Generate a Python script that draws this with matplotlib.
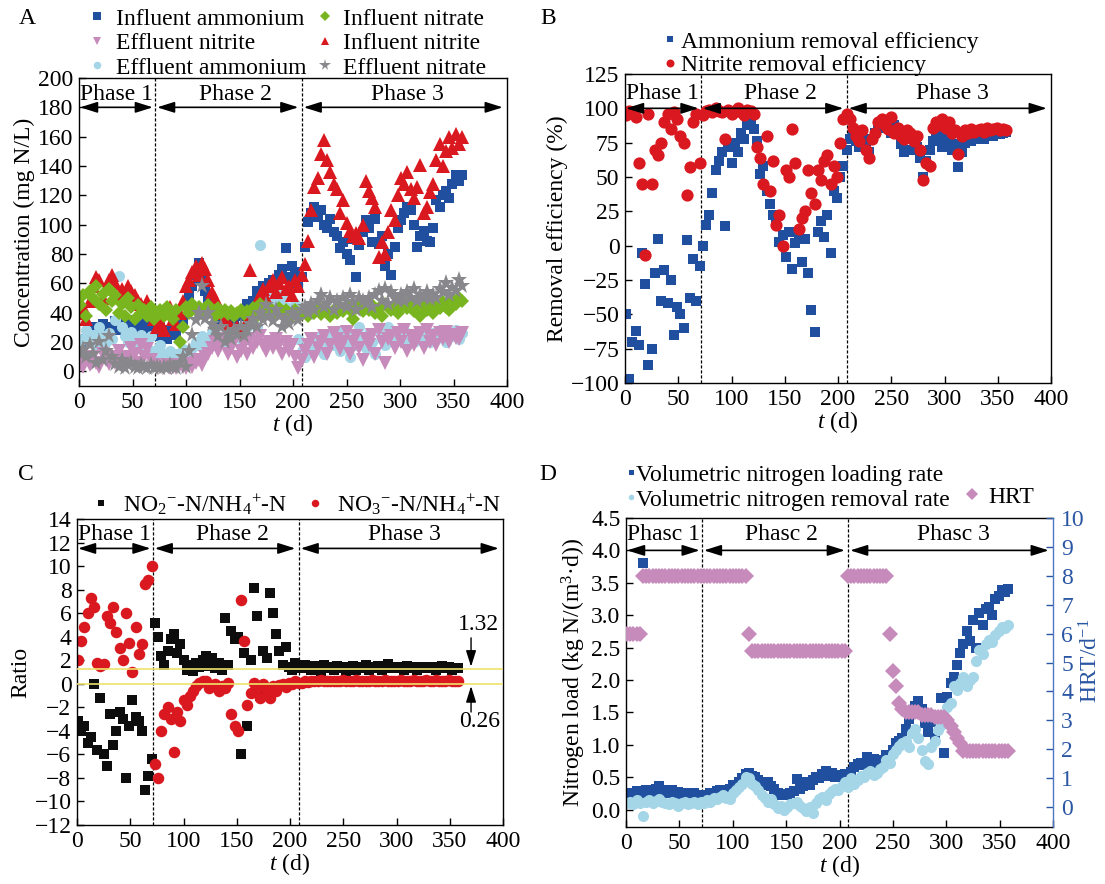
import matplotlib
matplotlib.use('Agg')
import matplotlib.pyplot as plt

plt.rcParams['font.family'] = ['Liberation Serif', 'DejaVu Serif']
plt.rcParams['mathtext.fontset'] = 'custom'
plt.rcParams['mathtext.rm'] = 'Liberation Serif'
plt.rcParams['mathtext.it'] = 'Liberation Serif:italic'
plt.rcParams['mathtext.bf'] = 'Liberation Serif:bold'
plt.rcParams['axes.unicode_minus'] = True

FS = 17

# ---------------- data ----------------
days = [1, 4, 7, 10, 13, 16, 19, 22, 25, 28,
        31, 34, 37, 40, 43, 46, 49, 52, 55, 58,
        61, 64, 67, 70, 73, 76, 79, 82, 85, 88,
        91, 94, 97, 100, 103, 106, 109, 112, 115, 118,
        121, 124, 127, 130, 133, 136, 139, 142, 145, 148,
        151, 154, 157, 160, 163, 166, 169, 172, 175, 178,
        181, 184, 187, 190, 193, 196, 199, 202, 205, 208,
        211, 214, 217, 220, 223, 226, 229, 232, 235, 238,
        241, 244, 247, 250, 253, 256, 259, 262, 265, 268,
        271, 274, 277, 280, 283, 286, 289, 292, 295, 298,
        301, 304, 307, 310, 313, 316, 319, 322, 325, 328,
        331, 334, 337, 340, 343, 346, 349, 352, 355, 358]

# Panel A: concentrations (mg N/L)
inf_nh4 = [20, 18, 22, 28, 24, 30, 26, 32, 28, 25,
           30, 34, 28, 32, 26, 30, 35, 28, 32, 30,
           27, 33, 30, 28, 24, 30, 26, 22, 28, 32,
           25, 30, 35, 45, 52, 58, 66, 74, 62, 55,
           50, 44, 40, 36, 38, 34, 38, 32, 36, 40,
           38, 42, 46, 40, 48, 55, 50, 58, 55, 60,
           62, 58, 66, 70, 84, 64, 72, 68, 60, 64,
           85, 102, 108, 112, 105, 110, 100, 98, 104, 95,
           92, 84, 88, 80, 76, 90, 64, 86, 95, 103,
           98, 88, 104, 87, 92, 72, 80, 66, 85, 98,
           103, 108, 112, 110, 100, 85, 92, 96, 89, 88,
           98, 117, 112, 120, 123, 118, 128, 134, 130, 134]
inf_no2 = [40, 44, 36, 48, 58, 64, 62, 50, 57, 62,
           66, 60, 52, 56, 50, 58, 55, 52, 48, 46,
           42, 48, 44, 36, 30, 34, 28, 40, 44, 36,
           32, 40, 48, 58, 62, 68, 72, 66, 74, 70,
           62, 54, 50, 44, 40, 36, 32, 30, 28, 30,
           26, 30, 34, 69, 40, 48, 52, 56, 50, 58,
           62, 54, 60, 64, 56, 58, 52, 62, 58, 66,
           73, 89, 110, 126, 132, 148, 158, 144, 136, 128,
           124, 108, 117, 101, 96, 92, 94, 91, 100, 130,
           123, 118, 112, 78, 88, 80, 95, 110, 103, 120,
           132, 128, 136, 124, 118, 126, 141, 108, 112, 122,
           128, 144, 155, 140, 150, 160, 152, 162, 155, 160]
inf_no3 = [45, 52, 38, 55, 50, 58, 46, 53, 42, 56,
           48, 52, 40, 46, 38, 50, 44, 36, 45, 40,
           42, 38, 44, 36, 40, 42, 38, 44, 40, 36,
           42, 20, 30, 44, 40, 46, 42, 44, 40, 42,
           45, 41, 38, 43, 40, 42, 39, 41, 38, 40,
           42, 39, 41, 40, 43, 38, 46, 42, 40, 43,
           41, 40, 43, 39, 42, 40, 38, 42, 40, 39,
           41, 38, 42, 40, 44, 39, 43, 41, 38, 42,
           40, 44, 41, 45, 42, 36, 43, 46, 41, 44,
           42, 45, 40, 43, 38, 46, 44, 42, 45, 40,
           44, 47, 43, 45, 41, 46, 38, 44, 42, 46,
           40, 45, 43, 47, 44, 42, 49, 46, 50, 48]
eff_nh4 = [15, 22, 28, 20, 25, 18, 30, 24, 20, 26,
           22, 35, 65, 30, 24, 20, 27, 22, 18, 25,
           20, 16, 24, 14, 10, 18, 12, 8, 14, 10,
           12, 6, 15, 10, 14, 16, 20, 18, 24, 22,
           20, 26, 18, 24, 22, 20, 25, 28, 24, 26,
           22, 28, 30, 35, 40, 30, 86, 44, 50, 48,
           52, 48, 56, 50, 44, 52, 40, 46, 22, 14,
           10, 18, 14, 22, 16, 24, 12, 20, 26, 18,
           22, 14, 28, 20, 10, 24, 18, 30, 22, 16,
           26, 20, 12, 28, 22, 18, 30, 24, 20, 26,
           22, 28, 18, 24, 20, 26, 22, 28, 24, 20,
           26, 22, 28, 24, 20, 26, 24, 28, 22, 26]
eff_no2 = [5, 3, 8, 4, 10, 6, 3, 12, 8, 5,
           10, 6, 14, 8, 4, 10, 16, 12, 6, 18,
           10, 15, 8, 4, 2, 3, 2, 4, 2, 3,
           2, 4, 3, 2, 5, 3, 6, 8, 4, 10,
           12, 16, 20, 14, 18, 22, 12, 16, 20, 10,
           14, 18, 12, 22, 16, 20, 24, 18, 14, 20,
           16, 22, 18, 12, 20, 14, 18, 10, 2, 8,
           14, 18, 22, 10, 16, 20, 24, 12, 18, 26,
           22, 15, 20, 27, 12, 20, 24, 16, 8, 22,
           18, 25, 12, 28, 20, 6, 22, 24, 16, 26,
           20, 28, 14, 24, 18, 22, 26, 16, 28, 20,
           24, 18, 26, 22, 27, 20, 25, 23, 22, 26]
eff_no3 = [12, 15, 10, 18, 12, 6, 20, 8, 14, 24,
           10, 5, 3, 8, 2, 4, 6, 3, 2, 4,
           3, 2, 4, 2, 3, 2, 3, 2, 4, 3,
           2, 6, 10, 3, 14, 25, 35, 40, 58, 36,
           40, 32, 28, 24, 30, 20, 26, 22, 28, 25,
           30, 24, 28, 32, 36, 30, 40, 35, 45, 38,
           34, 42, 38, 30, 36, 32, 40, 38, 35, 42,
           44, 40, 46, 42, 48, 52, 44, 46, 50, 42,
           48, 45, 50, 44, 52, 47, 42, 50, 48, 46,
           50, 44, 52, 55, 48, 56, 46, 54, 50, 48,
           52, 48, 54, 50, 56, 48, 52, 50, 54, 49,
           52, 50, 56, 54, 60, 52, 57, 55, 62, 58]

# Panel B: removal efficiency (%)
rem_nh4 = [-50, -97, -70, -62, -72, -5, -28, -87, -75, -20,
           5, -40, -18, -42, -25, -65, -45, -50, -60, 4,
           -38, -10, -40, -15, 0, 15, 22, 38, 55, 62,
           68, 14, 72, 60, 75, 68, 82, 78, 88, 90,
           85, 76, 52, 58, 40, 30, 22, 18, 3, 8,
           -8, 10, -17, 2, 8, -12, 5, -20, -47, -63,
           10, 18, 6, 22, -5, 40, 35, 50, 58, 70,
           78, 82, 76, 72, 80, 75, 68, 78, 82, 86,
           88, 90, 86, 82, 88, 84, 74, 68, 78, 70,
           80, 72, 64, 50, 62, 70, 76, 82, 78, 72,
           80, 76, 70, 74, 57, 68, 75, 78, 76, 78,
           80, 79, 78, 80, 81, 80, 82, 81, 82, 83]
rem_no2 = [95, 98, 97, 94, 60, 45, -7, 96, 45, 70,
           66, 75, 90, 96, 85, 97, 92, 80, 75, 37,
           57, 90, 96, 60, 95, 98, 99, 97, 100, 98,
           97, 78, 99, 96, 98, 100, 97, 95, 99, 98,
           96, 72, 64, 45, 80, 40, 62, 15, 22, 0,
           55, 50, 85, 60, 12, 20, 25, 55, 38, 30,
           55, 48, 62, 66, 45, 58, 50, 75, 92, 96,
           92, 86, 80, 76, 84, 70, 64, 78, 82, 90,
           92, 88, 85, 94, 82, 86, 80, 78, 84, 82,
           76, 80, 70, 48, 60, 58, 86, 90, 88, 92,
           86, 90, 82, 84, 67, 80, 84, 82, 85, 83,
           84, 85, 83, 86, 84, 85, 86, 84, 85, 84]

# Panel C: ratios
ratio_no2 = [-3.2, -4.0, -3.6, -5.0, -4.5, 0.0, -5.6, -1.2, -6.0, -7.0,
             -2.6, -5.2, -4.0, -2.4, -3.0, -8.0, -3.6, -1.4, -2.8, -3.2,
             -4.0, -9.0, -7.8, -6.4, 5.2, 4.0, 2.4, 1.6, 2.8, 3.8,
             4.2, 2.6, 3.4, 2.0, 1.2, 1.6, 1.1, 1.8, 1.4, 2.0,
             2.4, 1.5, 2.2, 1.3, 1.8, 1.2, 5.6, 1.6, 4.5, 3.8,
             4.0, -6.0, 2.6, -3.6, 2.0, 8.1, 5.8, -1.0, 2.8, 2.2,
             7.7, 6.0, 4.2, 2.8, 1.6, 3.1, 1.4, 1.2, 1.8, 1.5,
             1.3, 1.6, 1.4, 1.2, 1.5, 1.3, 1.1, 1.6, 1.4, 1.3,
             1.2, 1.5, 1.3, 1.4, 1.1, 1.3, 1.5, 1.2, 1.4, 1.3,
             1.6, 1.2, 1.3, 1.4, 1.5, 1.2, 1.3, 1.7, 1.4, 1.3,
             1.4, 1.3, 1.2, 1.5, 1.3, 1.4, 1.2, 1.3, 1.4, 1.3,
             1.3, 1.4, 1.2, 1.3, 1.5, 1.3, 1.4, 1.2, 1.3, 1.3]
ratio_no3 = [2.0, 3.6, 4.8, 6.0, 7.3, 6.5, 1.8, 1.5, 1.7, 5.8,
             5.2, 6.5, 4.4, 3.0, 2.0, 6.0, 3.5, 1.0, 4.8, 2.5,
             3.4, 8.5, 8.8, 10.0, -6.8, -8.0, -4.0, -2.6, -2.0, -3.0,
             -5.8, -2.4, -3.2, -1.4, -1.8, -1.0, -0.6, -0.2, 0.1, 0.2,
             0.2, -0.4, -0.2, 0.0, -0.6, -0.2, -0.4, 0.1, -2.6, -3.6,
             -4.0, 7.1, 3.6, -1.8, -0.8, 0.1, -0.4, -1.2, 0.0, -0.6,
             -1.2, -0.2, -0.6, -0.1, 0.0, -0.3, 0.1, 0.0, 0.2, 0.1,
             0.1, 0.2, 0.15, 0.2, 0.25, 0.2, 0.3, 0.2, 0.25, 0.2,
             0.2, 0.25, 0.2, 0.3, 0.2, 0.25, 0.2, 0.3, 0.25, 0.2,
             0.25, 0.2, 0.3, 0.2, 0.25, 0.2, 0.3, 0.25, 0.2, 0.25,
             0.2, 0.3, 0.25, 0.2, 0.25, 0.3, 0.2, 0.25, 0.2, 0.3,
             0.25, 0.2, 0.3, 0.25, 0.2, 0.25, 0.3, 0.2, 0.25, 0.2]
ratio_ref_lines = [1.25, 0.0]
ratio_ref_labels = ['1.32', '0.26']

# Panel D: nitrogen loading / removal rates and HRT
nlr = [0.22, 0.25, 0.20, 0.28, 0.24, 3.81, 0.30, 0.22, 0.26, 0.32,
       0.36, 0.30, 0.28, 0.26, 0.30, 0.24, 0.27, 0.22, 0.25, 0.20,
       0.24, 0.26, 0.22, 0.20, 0.18, 0.22, 0.26, 0.24, 0.28, 0.30,
       0.28, 0.26, 0.32, 0.38, 0.36, 0.42, 0.48, 0.55, 0.57, 0.52,
       0.50, 0.46, 0.40, 0.38, 0.42, 0.36, 0.32, 0.26, 0.22, 0.24,
       0.22, 0.25, 0.28, 0.47, 0.32, 0.36, 0.42, 0.38, 0.46, 0.50,
       0.48, 0.55, 0.60, 0.52, 0.56, 0.50, 0.54, 0.52, 0.55, 0.50,
       0.58, 0.66, 0.70, 0.72, 0.68, 0.81, 0.74, 0.78, 0.72, 0.70,
       0.76, 0.84, 0.80, 0.92, 1.02, 1.05, 1.10, 1.25, 1.40, 1.49,
       1.60, 1.68, 1.55, 1.33, 1.20, 1.35, 1.10, 1.40, 1.72, 0.87,
       1.74, 1.95, 2.05, 2.23, 2.42, 2.55, 2.75, 2.60, 2.93, 2.50,
       3.03, 2.85, 3.10, 3.13, 3.00, 3.25, 3.30, 3.39, 3.35, 3.40]
nrr = [0.10, 0.12, 0.08, 0.14, 0.10, -0.10, 0.12, 0.15, 0.10, 0.13,
       0.16, 0.12, 0.10, 0.08, 0.12, 0.10, 0.06, 0.10, 0.12, 0.08,
       0.10, 0.12, 0.09, 0.12, 0.10, 0.14, 0.12, 0.18, 0.16, 0.20,
       0.22, 0.18, 0.16, 0.26, 0.30, 0.34, 0.40, 0.50, 0.48, 0.40,
       0.36, 0.30, 0.22, 0.18, 0.12, 0.16, 0.08, 0.02, 0.06, 0.00,
       0.04, 0.08, 0.10, 0.12, 0.06, 0.02, -0.02, 0.04, -0.06, 0.10,
       0.16, 0.20, 0.14, 0.24, 0.28, 0.32, 0.30, 0.36, 0.42, 0.34,
       0.48, 0.40, 0.45, 0.52, 0.50, 0.56, 0.60, 0.54, 0.56, 0.62,
       0.66, 0.76, 0.72, 0.85, 0.92, 0.98, 1.02, 1.05, 0.97, 1.18,
       1.25, 1.10, 0.92, 0.75, 0.71, 0.97, 1.05, 1.23, 1.30, 1.45,
       1.59, 1.65, 1.90, 1.84, 1.95, 2.05, 1.90, 2.00, 2.05, 2.30,
       2.46, 2.40, 2.55, 2.62, 2.58, 2.70, 2.75, 2.82, 2.80, 2.85]
hrt = [6.0, 6.0, 6.0, 6.0, 6.0, 8.0, 8.0, 8.0, 8.0, 8.0,
       8.0, 8.0, 8.0, 8.0, 8.0, 8.0, 8.0, 8.0, 8.0, 8.0,
       8.0, 8.0, 8.0, 8.0, 8.0, 8.0, 8.0, 8.0, 8.0, 8.0,
       8.0, 8.0, 8.0, 8.0, 8.0, 8.0, 8.0, 8.0, 6.0, 5.4,
       5.4, 5.4, 5.4, 5.4, 5.4, 5.4, 5.4, 5.4, 5.4, 5.4,
       5.4, 5.4, 5.4, 5.4, 5.4, 5.4, 5.4, 5.4, 5.4, 5.4,
       5.4, 5.4, 5.4, 5.4, 5.4, 5.4, 5.4, 5.4, 5.4, 8.0,
       8.0, 8.0, 8.0, 8.0, 8.0, 8.0, 8.0, 8.0, 8.0, 8.0,
       8.0, 8.0, 6.0, 4.7, 4.2, 3.6, 3.4, 3.3, 3.3, 3.3,
       3.3, 3.3, 3.2, 3.2, 3.2, 3.2, 3.1, 3.1, 3.1, 3.1,
       3.0, 2.8, 2.6, 2.4, 2.2, 1.95, 1.95, 1.95, 1.95, 1.95,
       1.95, 1.95, 1.95, 1.95, 1.95, 1.95, 1.95, 1.95, 1.95, 1.95]

phase_bounds = [71, 208]
phase_names = ['Phase 1', 'Phase 2', 'Phase 3']
phase_names_D = ['Phasc 1', 'Phasc 2', 'Phasc 3']

# ---------------- style ----------------
C_DBLUE = '#1f4f9e'
C_RED = '#d9181f'
C_GREEN = '#79b51f'
C_LBLUE = '#a5d6e8'
C_PINK = '#c68bbb'
C_GREY = '#88888c'
C_BLACK = '#0d0d0d'
C_AXBLUE = '#2a56a3'

W, H = 1105, 884
fig = plt.figure(figsize=(W / 100, H / 100), dpi=100)
fig.patch.set_facecolor('white')


def rect(l, t, r, b):
    return [l / W, 1 - b / H, (r - l) / W, (b - t) / H]


axA = fig.add_axes(rect(79, 78, 507, 386))
axB = fig.add_axes(rect(625, 74, 1051, 383))
axC = fig.add_axes(rect(77, 519, 503, 825))
axD = fig.add_axes(rect(626, 518, 1053, 827))

arrow_spans = [(1, 69), (73, 205), (210, 396)]
text_x = [35, 146, 307]


def base_style(ax):
    ax.set_xlim(0, 400)
    ax.set_xticks([0, 50, 100, 150, 200, 250, 300, 350, 400])
    ax.tick_params(direction='in', length=5, width=1, labelsize=FS,
                   top=False, right=False, pad=4)
    for s in ax.spines.values():
        s.set_linewidth(1.0)
    ax.set_xlabel('$t$ (d)', fontsize=FS, labelpad=0)


def phases(ax, y_arrow, y_text, names):
    for b in phase_bounds:
        ax.axvline(b, color='k', lw=0.9, ls=(0, (2.5, 1.5)), zorder=1)
    for (a, b), name, xt in zip(arrow_spans, names, text_x):
        ax.annotate('', xy=(b, y_arrow), xytext=(a, y_arrow),
                    arrowprops=dict(arrowstyle='<|-|>,head_length=0.7,head_width=0.22',
                                    color='k', lw=1.2, mutation_scale=15,
                                    shrinkA=0, shrinkB=0), zorder=6)
        ax.text(xt, y_text, name, ha='center', va='center', fontsize=FS, zorder=6)


# ---- Panel A ----
axA.plot(days, inf_nh4, ls='none', marker='s', ms=7.5, mew=0, color=C_DBLUE, label='Influent ammonium')
axA.plot(days, eff_nh4, ls='none', marker='o', ms=8, mew=0, color=C_LBLUE, label='Effluent ammonium')
axA.plot(days, inf_no2, ls='none', marker='^', ms=9.5, mew=0, color=C_RED, label='Influent nitrite')
axA.plot(days, eff_no2, ls='none', marker='v', ms=9.5, mew=0, color=C_PINK, label='Effluent nitrite')
axA.plot(days, inf_no3, ls='none', marker='D', ms=7.5, mew=0, color=C_GREEN, label='Influent nitrate')
axA.plot(days, eff_no3, ls='none', marker='*', ms=12.5, mew=0, color=C_GREY, label='Effluent nitrate')
base_style(axA)
axA.set_ylim(-10, 200)
axA.set_yticks(list(range(0, 201, 20)))
axA.set_ylabel('Concentration (mg N/L)', fontsize=FS, labelpad=2)
phases(axA, 180, 189, phase_names)
hA, lA = axA.get_legend_handles_labels()
order = [0, 3, 1, 4, 2, 5]
fig.legend([hA[i] for i in order], [lA[i] for i in order], loc='upper left',
           bbox_to_anchor=(88 / W, 1 - 8 / H), ncol=2, frameon=False, fontsize=FS,
           handlelength=0.8, handletextpad=0.4, columnspacing=0.35, labelspacing=0.13,
           borderpad=0, borderaxespad=0, markerscale=0.68, numpoints=1)

# ---- Panel B ----
axB.plot(days, rem_nh4, ls='none', marker='s', ms=7.2, mew=0, color=C_DBLUE, label='Ammonium removal efficiency')
axB.plot(days, rem_no2, ls='none', marker='o', ms=8.8, mew=0, color=C_RED, label='Nitrite removal efficiency')
base_style(axB)
axB.set_ylim(-100, 125)
axB.set_yticks(list(range(-100, 126, 25)))
axB.set_ylabel('Removal efficiency (%)', fontsize=FS, labelpad=2)
phases(axB, 100, 111, phase_names)
axB.legend(loc='upper left', bbox_to_anchor=(664 / W, 1 - 31 / H), bbox_transform=fig.transFigure,
           frameon=False, fontsize=FS, handlelength=0.5, handletextpad=0.22, labelspacing=0.1,
           borderpad=0, borderaxespad=0, markerscale=0.65, numpoints=1)

# ---- Panel C ----
axC.plot(days, ratio_no2, ls='none', marker='s', ms=7.2, mew=0, color=C_BLACK,
         label=r'NO$_2$$^{-}$-N/NH$_4$$^{+}$-N')
axC.plot(days, ratio_no3, ls='none', marker='o', ms=8.3, mew=0, color=C_RED,
         label=r'NO$_3$$^{-}$-N/NH$_4$$^{+}$-N')
for yv in ratio_ref_lines:
    axC.axhline(yv, color='#eee36a', lw=1.2, zorder=3)
base_style(axC)
axC.set_ylim(-12, 14)
axC.set_yticks(list(range(-12, 15, 2)))
axC.set_ylabel('Ratio', fontsize=FS, labelpad=2)
phases(axC, 11.5, 12.7, phase_names)
axC.annotate('', xy=(370, 1.45), xytext=(370, 3.9),
             arrowprops=dict(arrowstyle='-|>,head_length=0.7,head_width=0.22', color='k', lw=1.0,
                             mutation_scale=14, shrinkA=0, shrinkB=0))
axC.text(377, 5.0, ratio_ref_labels[0], ha='center', va='center', fontsize=FS)
axC.annotate('', xy=(370, -0.2), xytext=(370, -2.4),
             arrowprops=dict(arrowstyle='-|>,head_length=0.7,head_width=0.22', color='k', lw=1.0,
                             mutation_scale=14, shrinkA=0, shrinkB=0))
axC.text(378, -3.2, ratio_ref_labels[1], ha='center', va='center', fontsize=FS)
axC.legend(loc='upper left', bbox_to_anchor=(92 / W, 1 - 492 / H), bbox_transform=fig.transFigure,
           ncol=2, frameon=False, fontsize=FS, handlelength=0.8, handletextpad=0.5,
           columnspacing=0.8, borderpad=0, borderaxespad=0, markerscale=0.65, numpoints=1)

# ---- Panel D ----
axD.plot(days, nlr, ls='none', marker='s', ms=7.2, mew=0, color=C_DBLUE, label='Volumetric nitrogen loading rate')
axD.plot(days, nrr, ls='none', marker='o', ms=8, mew=0, color=C_LBLUE, label='Volumetric nitrogen removal rate')
base_style(axD)
axD.set_ylim(-0.27, 4.5)
axD.set_yticks([0.0, 0.5, 1.0, 1.5, 2.0, 2.5, 3.0, 3.5, 4.0, 4.5])
axD.set_yticklabels(['%.1f' % v for v in [0.0, 0.5, 1.0, 1.5, 2.0, 2.5, 3.0, 3.5, 4.0, 4.5]])
axD.set_ylabel('Nitrogen load (kg N/(m$^3$·d))', fontsize=FS, labelpad=2)
axD.spines['right'].set_visible(False)
phases(axD, 4.0, 4.25, phase_names_D)
axD2 = axD.twinx()
axD2.plot(days, hrt, ls='none', marker='D', ms=8, mew=0, color=C_PINK, label='HRT')
axD2.set_ylim(-0.69, 10)
axD2.set_yticks(list(range(0, 11)))
axD2.tick_params(axis='y', direction='in', length=5, width=1, labelsize=FS,
                 colors=C_AXBLUE, pad=6)
for side in ['left', 'top', 'bottom']:
    axD2.spines[side].set_visible(False)
axD2.spines['right'].set_color('#4f78c4')
axD2.spines['right'].set_linewidth(1.0)
axD2.set_ylabel('HRT/d$^{-1}$', fontsize=FS, color=C_AXBLUE)
axD2.yaxis.set_label_coords(1.062, 0.537)
axD.legend(loc='upper left', bbox_to_anchor=(627 / W, 1 - 464 / H), bbox_transform=fig.transFigure,
           frameon=False, fontsize=FS, handlelength=0.3, handletextpad=0.1, labelspacing=0.15,
           borderpad=0, borderaxespad=0, markerscale=0.5, numpoints=1)
axD2.legend(loc='upper left', bbox_to_anchor=(965 / W, 1 - 486 / H), bbox_transform=fig.transFigure,
            frameon=False, fontsize=FS, handlelength=0.6, handletextpad=0.37,
            borderpad=0, borderaxespad=0, markerscale=0.75, numpoints=1)

# panel letters
for lab, (px, py) in zip(['A', 'B', 'C', 'D'], [(27, 19), (548, 18), (26, 475), (548, 475)]):
    fig.text(px / W, 1 - py / H, lab, ha='center', va='center', fontsize=FS)

fig.savefig('out.png', dpi=100, facecolor='white')
